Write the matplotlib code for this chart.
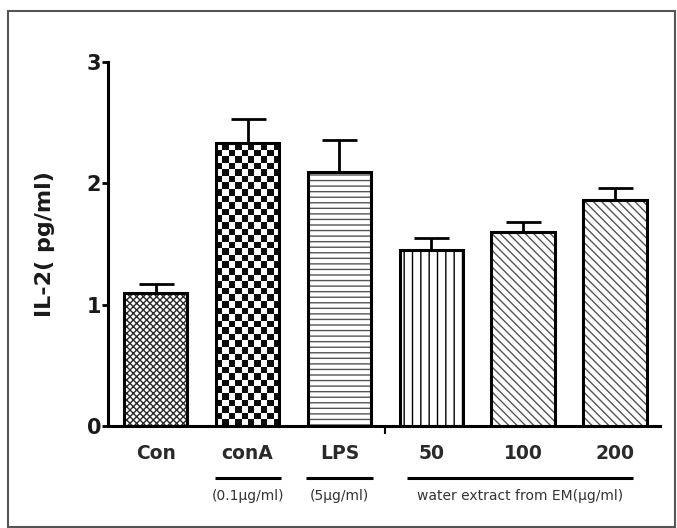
import numpy as np
import matplotlib
matplotlib.use("Agg")
import matplotlib.pyplot as plt
from matplotlib.patches import Rectangle

# data
groups = ["Con", "conA", "LPS", "50", "100", "200"]
il2_mean = [1.10, 2.33, 2.09, 1.45, 1.60, 1.86]
il2_err = [0.07, 0.20, 0.27, 0.10, 0.08, 0.10]
y_ticks = [0, 1, 2, 3]

hatches = ["xxxxx", None, "---", "||", "\\\\\\\\", "\\\\\\\\"]
hatch_colors = ["#2a2a2a", "black", "#555555", "black", "#555555", "#555555"]

plt.rcParams["font.family"] = "DejaVu Sans"
plt.rcParams["hatch.linewidth"] = 1.0

fig = plt.figure(figsize=(6.77, 5.28), dpi=100)
ax = fig.add_axes([0.1595, 0.1932, 0.8154, 0.6894])

x = np.arange(len(groups))
width = 0.69
xlim = (-0.52, 5.49)
ylim = (0, 3)
ax.set_xlim(*xlim)
ax.set_ylim(*ylim)

# hatched fill first, black outline drawn on top
for xi, h, hc, hatch in zip(x, il2_mean, hatch_colors, hatches):
    ax.bar(xi, h, width=width, color="white", edgecolor=hc, linewidth=0,
           hatch=hatch, zorder=1)

outlines = ax.bar(x, il2_mean, width=width, facecolor="none",
                  edgecolor="black", linewidth=2.2, zorder=3)


def checker_fill(ax, bar, cell_px=6.5):
    x0, y0 = bar.get_x(), bar.get_y()
    w, h = bar.get_width(), bar.get_height()
    p0 = ax.transData.transform((x0, y0))
    p1 = ax.transData.transform((x0 + w, y0 + h))
    nx = max(1, int(round((p1[0] - p0[0]) / cell_px)))
    ny = max(1, int(round((p1[1] - p0[1]) / cell_px)))
    grid = np.indices((ny, nx)).sum(axis=0) % 2
    im = ax.imshow(grid, cmap="gray_r", vmin=0, vmax=1.05,
                   extent=(x0, x0 + w, y0, y0 + h),
                   interpolation="nearest", aspect="auto", zorder=2)
    im.set_clip_path(bar)


# conA bar has a checkerboard pattern
checker_fill(ax, outlines[1])
ax.set_xlim(*xlim)
ax.set_ylim(*ylim)

# upper error bars only
ax.errorbar(x, il2_mean, yerr=[np.zeros(len(x)), il2_err], fmt="none",
            ecolor="black", elinewidth=2.0, capsize=12.6, capthick=2.0,
            zorder=4)

# axes styling
for side in ["top", "right"]:
    ax.spines[side].set_visible(False)
for side in ["left", "bottom"]:
    ax.spines[side].set_linewidth(2.2)

ax.set_yticks(y_ticks)
ax.set_yticklabels([str(t) for t in y_ticks], fontsize=15, fontweight="bold",
                   color="#1a1a1a")
ax.tick_params(axis="y", length=4, width=2, pad=1)

ax.set_xticks(x)
ax.set_xticklabels(groups, fontsize=13.5, fontweight="bold", color="#2a2a2a")
ax.tick_params(axis="x", which="major", length=0, pad=13)
ax.set_xticks([2.5], minor=True)
ax.tick_params(axis="x", which="minor", length=6, width=1.5)

ax.set_ylabel("IL-2( pg/ml)", fontsize=16, fontweight="bold", color="#1a1a1a")
ax.yaxis.set_label_coords(-0.096, 0.5)

# group underlines and concentration notes
trans = ax.get_xaxis_transform()
notes = [
    (1 - 0.36, 1 + 0.36, "(0.1\u03bcg/ml)"),
    (2 - 0.36, 2 + 0.36, "(5\u03bcg/ml)"),
    (3 - 0.26, 5 + 0.20, "water extract from EM(\u03bcg/ml)"),
]
for x0, x1, txt in notes:
    ax.plot([x0, x1], [-0.143, -0.143], color="black", linewidth=2.2,
            transform=trans, clip_on=False, solid_capstyle="butt")
    ax.text((x0 + x1) / 2, -0.192, txt, transform=trans, ha="center",
            va="center", fontsize=10, color="#333333")

# thin frame round the whole figure
fig.patches.append(Rectangle((0.0118, 0.002), 0.985, 0.977,
                             transform=fig.transFigure, fill=False,
                             edgecolor="#555555", linewidth=1.5))

fig.savefig("out.png", dpi=100)
